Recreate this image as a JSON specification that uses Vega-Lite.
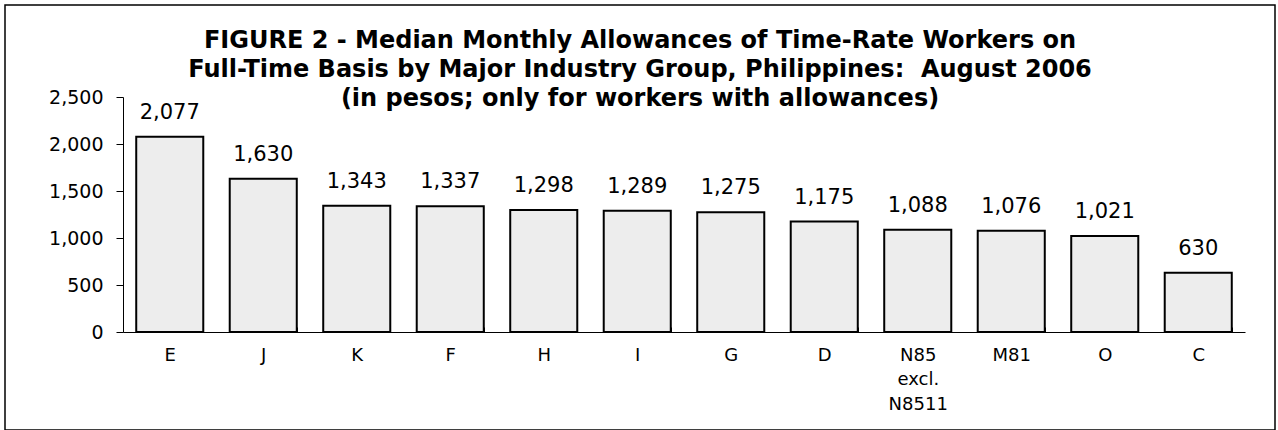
{
  "$schema": "https://vega.github.io/schema/vega-lite/v6.json",
  "width": 1270,
  "height": 425,
  "autosize": {"type": "none"},
  "padding": {"left": 5, "top": 5, "right": 3, "bottom": 0},
  "background": "white",
  "title": {
    "text": [
      "FIGURE 2 - Median Monthly Allowances of Time-Rate Workers on",
      "Full-Time Basis by Major Industry Group, Philippines:\u00a0 August 2006",
      "(in pesos; only for workers with allowances)"
    ],
    "font": "DejaVu Sans",
    "fontSize": 24,
    "fontWeight": "bold",
    "color": "black",
    "lineHeight": 29,
    "anchor": "middle",
    "frame": "group",
    "baseline": "top",
    "offset": -106
  },
  "config": {
    "view": {"stroke": "black", "strokeWidth": 1.5},
    "font": "DejaVu Sans"
  },
  "data": {
    "values": [
      {"industry": "E", "allowance": 2077},
      {"industry": "J", "allowance": 1630},
      {"industry": "K", "allowance": 1343},
      {"industry": "F", "allowance": 1337},
      {"industry": "H", "allowance": 1298},
      {"industry": "I", "allowance": 1289},
      {"industry": "G", "allowance": 1275},
      {"industry": "D", "allowance": 1175},
      {"industry": "N85 excl. N8511", "allowance": 1088},
      {"industry": "M81", "allowance": 1076},
      {"industry": "O", "allowance": 1021},
      {"industry": "C", "allowance": 630}
    ]
  },
  "encoding": {
    "x": {
      "field": "industry",
      "type": "nominal",
      "sort": null,
      "scale": {"range": [118, 1240], "paddingInner": 0.283, "paddingOuter": 0.1415},
      "axis": {
        "title": null,
        "labelAngle": 0,
        "tickBand": "extent",
        "tickSize": -5,
        "domainColor": "black",
        "tickColor": "black",
        "labelColor": "black",
        "labelFontSize": 18,
        "labelFont": "DejaVu Sans",
        "labelPadding": 19,
        "labelBaseline": "top",
        "labelLineHeight": 24.5,
        "labelExpr": "split(datum.label, ' ')",
        "offset": -98,
        "grid": false
      }
    },
    "y": {
      "field": "allowance",
      "type": "quantitative",
      "scale": {"domain": [0, 2500], "range": [327, 92], "nice": false},
      "axis": {
        "title": null,
        "values": [0, 500, 1000, 1500, 2000, 2500],
        "labelExpr": "format(datum.value, ',')",
        "tickSize": 7,
        "labelPadding": 13,
        "offset": -118,
        "grid": false,
        "domainColor": "black",
        "tickColor": "black",
        "labelColor": "black",
        "labelFontSize": 19,
        "labelFont": "DejaVu Sans"
      }
    }
  },
  "layer": [
    {"mark": {"type": "bar", "fill": "#ededed", "stroke": "black", "strokeWidth": 2}},
    {
      "mark": {"type": "text", "baseline": "alphabetic", "dy": -18, "fontSize": 21, "font": "DejaVu Sans", "color": "black"},
      "encoding": {"text": {"field": "allowance", "type": "quantitative", "format": ","}}
    }
  ]
}
